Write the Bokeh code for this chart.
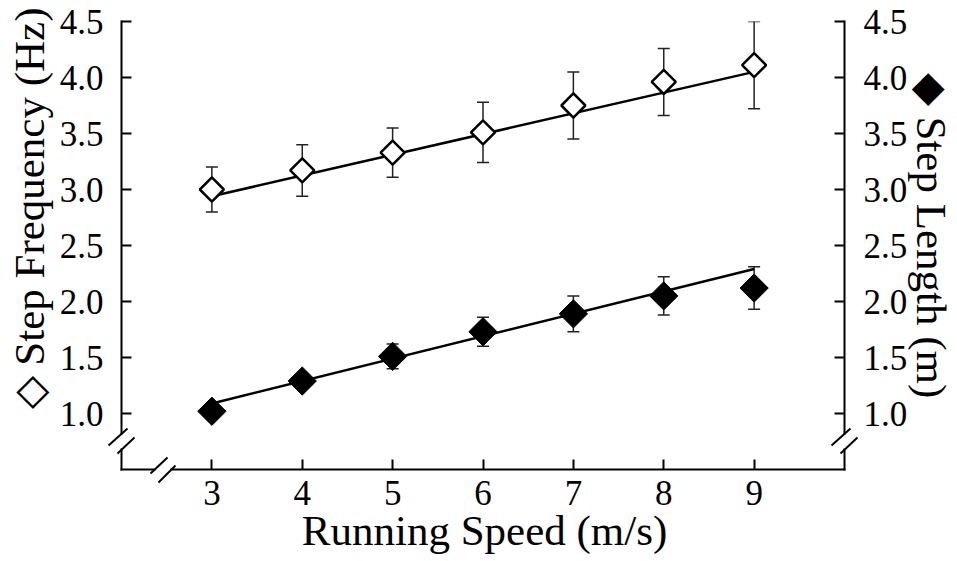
import math
from bokeh.plotting import figure
from bokeh.models import (ColumnDataSource, Whisker, TeeHead, LinearAxis, FixedTicker,
                          Range1d, PrintfTickFormatter)
from bokeh.core.properties import value
from bokeh.embed import file_html
from bokeh.resources import INLINE

# ---------------- data ----------------
speed = [3, 4, 5, 6, 7, 8, 9]
step_freq = [3.00, 3.17, 3.33, 3.51, 3.75, 3.96, 4.11]
step_freq_sd = [0.20, 0.23, 0.22, 0.27, 0.30, 0.30, 0.39]
step_len = [1.02, 1.29, 1.51, 1.73, 1.89, 2.05, 2.12]
step_len_sd = [0.04, 0.06, 0.11, 0.13, 0.16, 0.17, 0.19]
fit_x = [3, 9]
fit_freq = [2.94, 4.05]
fit_len = [1.09, 2.29]

x_ticks = [3, 4, 5, 6, 7, 8, 9]
x_tick_labels = ["3", "4", "5", "6", "7", "8", "9"]
y_ticks = [1.0, 1.5, 2.0, 2.5, 3.0, 3.5, 4.0, 4.5]
y_tick_labels = ["1.0", "1.5", "2.0", "2.5", "3.0", "3.5", "4.0", "4.5"]

x_title = "Running Speed (m/s)"
y_title_left = "\u25C7 Step Frequency (Hz)"
y_title_right = "\u25C6 Step Length (m)"

# ---------------- layout ----------------
X0, X1 = 2, 10
Y0, Y1 = 0.5, 4.5
W, H = 957, 561
MB_L, MB_R, MB_T, MB_B = 121, 113, 21, 92
FW = W - MB_L - MB_R
FH = H - MB_T - MB_B
PPX = FW / (X1 - X0)
PPY = FH / (Y1 - Y0)


def dx(px):  # pixel offset -> data units (x)
    return px / PPX


def dy(py):  # pixel offset (upwards) -> data units (y)
    return py / PPY


def cx(px):  # canvas pixel -> data x
    return X0 + (px - MB_L) / PPX


def cy(py):  # canvas pixel -> data y
    return Y0 + (MB_T + FH - py) / PPY


FONT = "Liberation Serif"

p = figure(width=W, height=H, x_range=Range1d(X0, X1), y_range=Range1d(Y0, Y1),
           output_backend="svg", toolbar_location=None,
           min_border_left=MB_L, min_border_right=MB_R,
           min_border_top=MB_T, min_border_bottom=MB_B)
p.outline_line_color = None
p.xgrid.visible = False
p.ygrid.visible = False
p.background_fill_color = "white"
p.border_fill_color = "white"

right_axis = LinearAxis()
p.add_layout(right_axis, "right")

for ax in [p.xaxis[0], p.yaxis[0], right_axis]:
    ax.axis_line_color = None
    ax.major_tick_in = 10
    ax.major_tick_out = 0
    ax.major_tick_line_width = 2
    ax.major_tick_line_color = "black"
    ax.minor_tick_line_color = None
    ax.major_label_text_font = FONT
    ax.major_label_text_font_size = "35px"
    ax.major_label_text_color = "black"

p.xaxis[0].ticker = FixedTicker(ticks=x_ticks)
p.xaxis[0].major_label_overrides = {t: l for t, l in zip(x_ticks, x_tick_labels)}
p.xaxis[0].major_label_standoff = 11
for ax in [p.yaxis[0], right_axis]:
    ax.ticker = FixedTicker(ticks=y_ticks)
    ax.formatter = PrintfTickFormatter(format="%.1f")
    ax.major_label_overrides = {t: l for t, l in zip(y_ticks, y_tick_labels)}
p.yaxis[0].major_label_standoff = 18
right_axis.major_label_standoff = 19

# ---------------- axis lines with breaks ----------------
gap_y_top = Y0 + dy(36)
gap_y_bot = Y0 + dy(20)
gap_x_l = X0 + dx(33)
gap_x_r = X0 + dx(50)

ax_x0 = [X0, X0, X1, X1, X0, gap_x_r]
ax_y0 = [gap_y_top, Y0, gap_y_top, Y0, Y0, Y0]
ax_x1 = [X0, X0, X1, X1, gap_x_l, X1]
ax_y1 = [Y1, gap_y_bot, Y1, gap_y_bot, Y0, Y0]
p.segment(ax_x0, ax_y0, ax_x1, ax_y1, line_width=2, line_color="black",
          line_cap="square", level="overlay")

# break slashes (pixel offsets relative to axis corner)
sl = [(-13, 24, 6, 41), (-4, 16, 13, 32)]
sx0, sy0, sx1, sy1 = [], [], [], []
for base in [X0, X1]:
    for a, b, c, d in sl:
        sx0.append(base + dx(a)); sy0.append(Y0 + dy(b))
        sx1.append(base + dx(c)); sy1.append(Y0 + dy(d))
for a, b, c, d in [(29, -4, 46, 12), (37, -13, 54, 4)]:
    sx0.append(X0 + dx(a)); sy0.append(Y0 + dy(b))
    sx1.append(X0 + dx(c)); sy1.append(Y0 + dy(d))
p.segment(sx0, sy0, sx1, sy1, line_width=2, line_color="black", level="overlay")

# ---------------- data marks ----------------
src_f = ColumnDataSource(dict(x=speed, y=step_freq,
                              lo=[v - s for v, s in zip(step_freq, step_freq_sd)],
                              hi=[v + s for v, s in zip(step_freq, step_freq_sd)]))
src_l = ColumnDataSource(dict(x=speed, y=step_len,
                              lo=[v - s for v, s in zip(step_len, step_len_sd)],
                              hi=[v + s for v, s in zip(step_len, step_len_sd)]))

for src in [src_f, src_l]:
    w = Whisker(base="x", upper="hi", lower="lo", source=src,
                line_color="#222222", line_width=1.5,
                upper_head=TeeHead(size=12, line_width=1.5, line_color="#222222"),
                lower_head=TeeHead(size=12, line_width=1.5, line_color="#222222"))
    p.add_layout(w)

p.line(fit_x, fit_freq, line_width=2.5, line_color="black")
p.line(fit_x, fit_len, line_width=2.5, line_color="black")

p.scatter("x", "y", source=src_l, marker="square", angle=math.pi / 4, size=20,
          fill_color="black", line_color="black", line_width=1)
p.scatter("x", "y", source=src_f, marker="square", angle=math.pi / 4, size=17,
          fill_color="white", line_color="black", line_width=2.5)

# ---------------- titles ----------------
titles = ColumnDataSource(dict(
    x=[cx(484), cx(29), cx(931)],
    y=[cy(530), cy(208), cy(235)],
    text=[x_title, y_title_left, y_title_right],
    angle=[0, math.pi / 2, -math.pi / 2],
))
p.text(x="x", y="y", text="text", angle="angle", source=titles,
       text_align="center", text_baseline="middle",
       text_font=value("'Liberation Serif', 'Times New Roman', serif"),
       text_font_size=value("43px"),
       text_color="black", level="overlay")

open("out.html", "w").write(file_html(p, INLINE))
